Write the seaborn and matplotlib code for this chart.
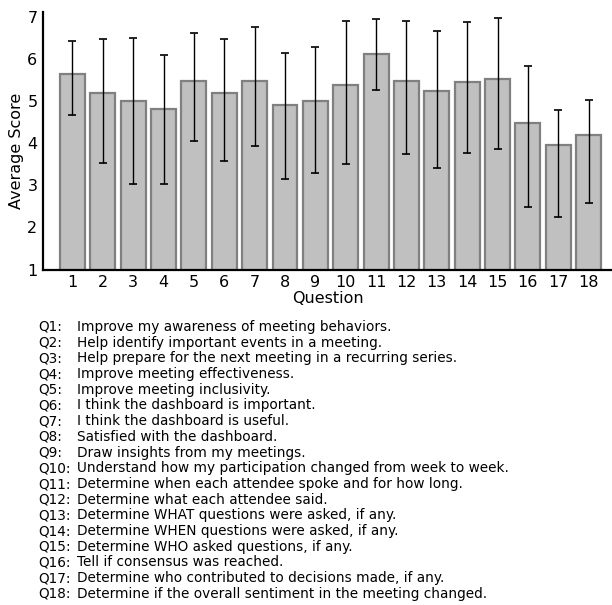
import matplotlib
matplotlib.use("Agg")
import matplotlib.pyplot as plt
import seaborn as sns
import numpy as np
import pandas as pd

# Survey results: average score per question with lower/upper error bounds
questions = [str(i) for i in range(1, 19)]
avg_score = [5.66, 5.20, 5.01, 4.82, 5.48, 5.20, 5.48, 4.90, 5.01,
             5.39, 6.13, 5.48, 5.24, 5.47, 5.54, 4.49, 3.95, 4.19]
err_low = [4.67, 3.53, 3.03, 3.03, 4.06, 3.57, 3.93, 3.15, 3.29,
           3.51, 5.28, 3.74, 3.41, 3.77, 3.87, 2.48, 2.25, 2.59]
err_high = [6.44, 6.48, 6.51, 6.09, 6.63, 6.47, 6.76, 6.15, 6.28,
            6.92, 6.95, 6.92, 6.66, 6.89, 6.99, 5.85, 4.80, 5.02]
y_ticks = [1, 2, 3, 4, 5, 6, 7]

question_text = [
    "Improve my awareness of meeting behaviors.",
    "Help identify important events in a meeting.",
    "Help prepare for the next meeting in a recurring series.",
    "Improve meeting effectiveness.",
    "Improve meeting inclusivity.",
    "I think the dashboard is important.",
    "I think the dashboard is useful.",
    "Satisfied with the dashboard.",
    "Draw insights from my meetings.",
    "Understand how my participation changed from week to week.",
    "Determine when each attendee spoke and for how long.",
    "Determine what each attendee said.",
    "Determine WHAT questions were asked, if any.",
    "Determine WHEN questions were asked, if any.",
    "Determine WHO asked questions, if any.",
    "Tell if consensus was reached.",
    "Determine who contributed to decisions made, if any.",
    "Determine if the overall sentiment in the meeting changed.",
]

sns.set_style("white")
plt.rcParams["font.family"] = ["DejaVu Sans"]
plt.rcParams["text.color"] = "black"
plt.rcParams["axes.labelcolor"] = "black"

df = pd.DataFrame({"Question": questions, "Average Score": avg_score})

fig = plt.figure(figsize=(6.12, 6.05), dpi=100)
ax = fig.add_axes([43 / 612, 1 - 269.5 / 605, 1 - 43 / 612, 257.8 / 605])

sns.barplot(data=df, x="Question", y="Average Score", ax=ax,
            color="#c0c0c0", edgecolor="#808080", linewidth=1.6,
            width=0.82, errorbar=None, saturation=1)

mean = np.array(avg_score)
yerr = np.vstack([mean - np.array(err_low), np.array(err_high) - mean])
ax.errorbar(np.arange(len(questions)), mean, yerr=yerr, fmt="none",
            ecolor="black", elinewidth=1.0, capsize=3.0, capthick=1.2)

ax.set_ylim(1, 7.13)
ax.set_xlim(-0.97, 17.77)
ax.set_yticks(y_ticks)
ax.tick_params(axis="both", length=0, labelsize=11.5, pad=4, colors="black")
ax.set_xlabel("Question", fontsize=11.5, labelpad=1)
ax.set_ylabel("Average Score", fontsize=11.5)
ax.yaxis.set_label_coords(-0.034, 0.46)

for side in ("top", "right"):
    ax.spines[side].set_visible(False)
for side in ("left", "bottom"):
    ax.spines[side].set_linewidth(1.6)
    ax.spines[side].set_color("black")

# Question legend below the chart
y0 = 1 - 327 / 605
dy = 15.7 / 605
for i, txt in enumerate(question_text):
    y = y0 - i * dy
    fig.text(38 / 612, y, f"Q{i + 1}:", fontsize=9.8, va="center", ha="left")
    fig.text(77 / 612, y, txt, fontsize=9.8, va="center", ha="left")

fig.savefig("out.png", dpi=100)
